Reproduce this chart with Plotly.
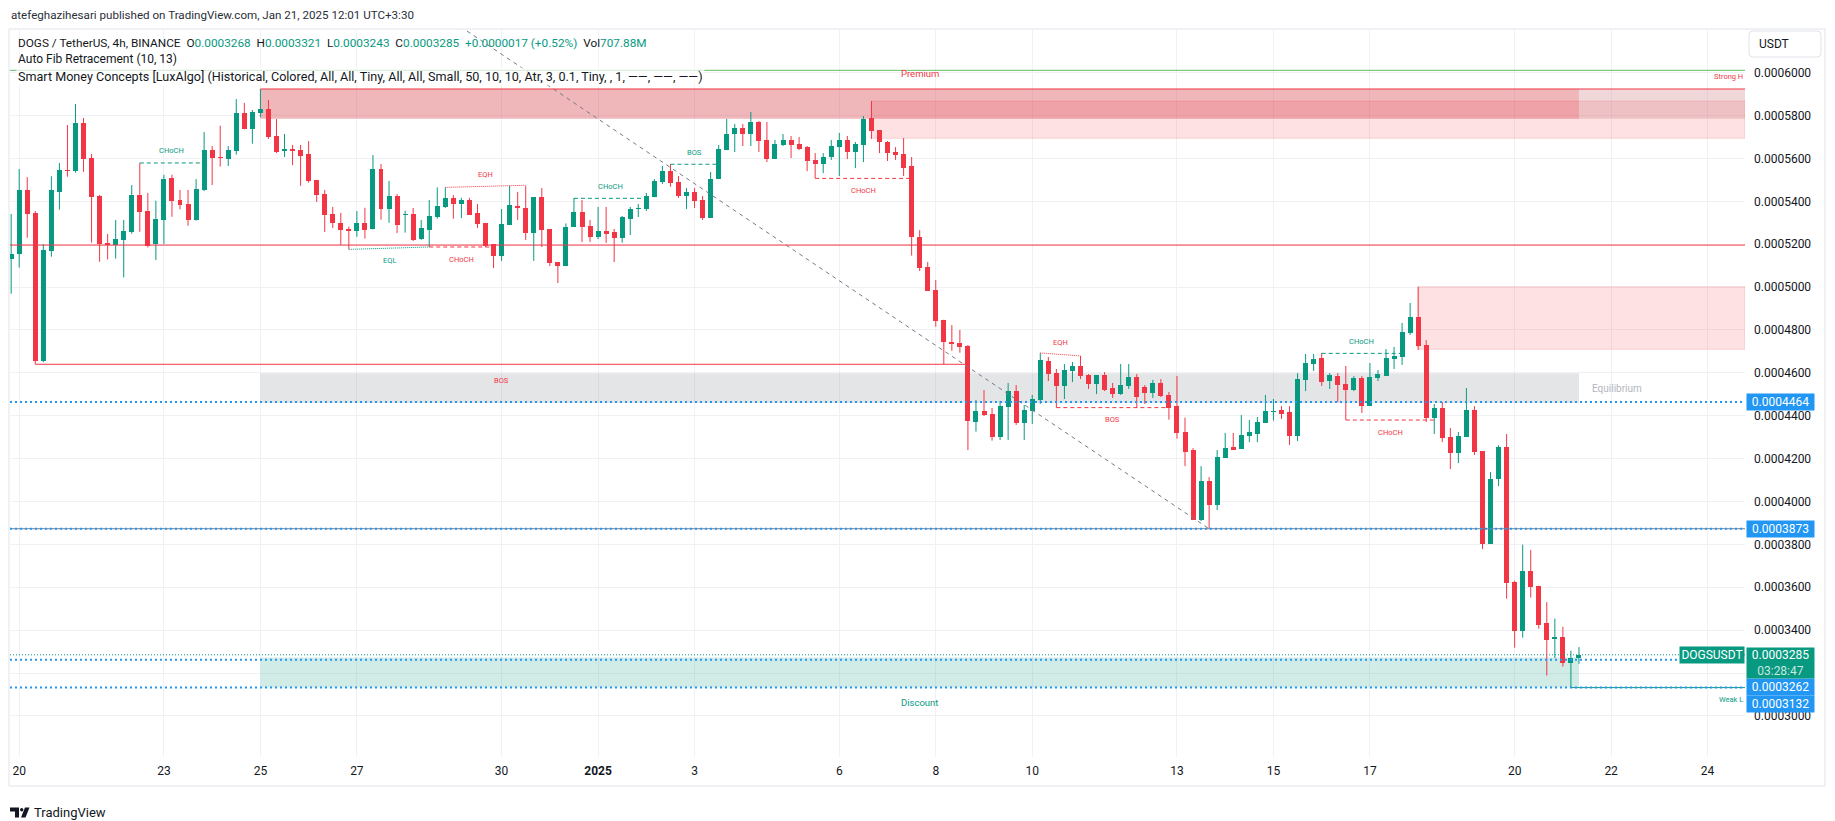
import pandas as pd
import plotly.graph_objects as go

# ===================== chart values =====================
header_text = "atefeghazihesari published on TradingView.com, Jan 21, 2025 12:01 UTC+3:30"
symbol_title = "DOGS / TetherUS, 4h, BINANCE"
fib_title = "Auto Fib Retracement (10, 13)"
smc_title = ("Smart Money Concepts [LuxAlgo] (Historical, Colored, All, All, Tiny, All, All, "
             "Small, 50, 10, 10, Atr, 3, 0.1, Tiny, , 1, \u2014\u2014, \u2014\u2014, \u2014\u2014)")
volume_text = "707.88M"
countdown_text = "03:28:47"
ticker = "DOGSUSDT"
currency = "USDT"

first_bar = "2024-12-19 20:00"      # 4h candles, first one partly visible
bar_hours = 4

opens = [
    0.0005133, 0.0005156, 0.0005453, 0.0005346, 0.0004657, 0.0005170, 0.0005445, 0.0005546, 0.0005543, 0.0005765,
    0.0005601, 0.0005425, 0.0005206, 0.0005196, 0.0005221, 0.0005258, 0.0005430, 0.0005355, 0.0005201, 0.0005313,
    0.0005509, 0.0005406, 0.0005388, 0.0005313, 0.0005453, 0.0005639, 0.0005607, 0.0005599, 0.0005635, 0.0005812,
    0.0005739, 0.0005814, 0.0005831, 0.0005705, 0.0005636, 0.0005643, 0.0005639, 0.0005621, 0.0005500, 0.0005434,
    0.0005341, 0.0005299, 0.0005271, 0.0005263, 0.0005299, 0.0005272, 0.0005551, 0.0005366, 0.0005425, 0.0005338,
    0.0005341, 0.0005224, 0.0005268, 0.0005327, 0.0005374, 0.0005416, 0.0005389, 0.0005406, 0.0005346, 0.0005299,
    0.0005201, 0.0005147, 0.0005290, 0.0005378, 0.0005369, 0.0005252, 0.0005420, 0.0005271, 0.0005117, 0.0005098,
    0.0005280, 0.0005350, 0.0005285, 0.0005234, 0.0005262, 0.0005257, 0.0005230, 0.0005318, 0.0005366, 0.0005366,
    0.0005422, 0.0005490, 0.0005541, 0.0005490, 0.0005425, 0.0005444, 0.0005406, 0.0005324, 0.0005504, 0.0005639,
    0.0005714, 0.0005742, 0.0005714, 0.0005770, 0.0005686, 0.0005597, 0.0005663, 0.0005686, 0.0005667, 0.0005653,
    0.0005593, 0.0005574, 0.0005607, 0.0005653, 0.0005686, 0.0005630, 0.0005663, 0.0005789, 0.0005733, 0.0005677,
    0.0005630, 0.0005621, 0.0005565, 0.0005234, 0.0005094, 0.0004986, 0.0004848, 0.0004744, 0.0004739, 0.0004725,
    0.0004371, 0.0004422, 0.0004408, 0.0004301, 0.0004441, 0.0004517, 0.0004366, 0.0004424, 0.0004473, 0.0004655,
    0.0004599, 0.0004539, 0.0004610, 0.0004632, 0.0004590, 0.0004548, 0.0004590, 0.0004529, 0.0004501, 0.0004539,
    0.0004581, 0.0004534, 0.0004506, 0.0004553, 0.0004497, 0.0004445, 0.0004324, 0.0004240, 0.0003914, 0.0004095,
    0.0003984, 0.0004203, 0.0004254, 0.0004245, 0.0004306, 0.0004315, 0.0004366, 0.0004419, 0.0004427, 0.0004417,
    0.0004305, 0.0004567, 0.0004641, 0.0004669, 0.0004562, 0.0004585, 0.0004548, 0.0004520, 0.0004576, 0.0004445,
    0.0004576, 0.0004585, 0.0004665, 0.0004674, 0.0004786, 0.0004860, 0.0004730, 0.0004389, 0.0004436, 0.0004301,
    0.0004226, 0.0004301, 0.0004427, 0.0004235, 0.0003802, 0.0004105, 0.0004254, 0.0003626, 0.0003398, 0.0003677,
    0.0003607, 0.0003433, 0.0003359, 0.0003368, 0.0003248, 0.0003268,
]
highs = [
    0.0005341, 0.0005551, 0.0005513, 0.0005355, 0.0005201, 0.0005517, 0.0005579, 0.0005756, 0.0005854, 0.0005789,
    0.0005621, 0.0005430, 0.0005248, 0.0005313, 0.0005313, 0.0005476, 0.0005579, 0.0005439, 0.0005403, 0.0005524,
    0.0005524, 0.0005453, 0.0005453, 0.0005504, 0.0005723, 0.0005658, 0.0005753, 0.0005658, 0.0005877, 0.0005859,
    0.0005826, 0.0005924, 0.0005873, 0.0005784, 0.0005714, 0.0005663, 0.0005663, 0.0005681, 0.0005500, 0.0005453,
    0.0005374, 0.0005346, 0.0005282, 0.0005355, 0.0005370, 0.0005616, 0.0005574, 0.0005495, 0.0005434, 0.0005356,
    0.0005369, 0.0005313, 0.0005406, 0.0005465, 0.0005465, 0.0005430, 0.0005416, 0.0005416, 0.0005388, 0.0005299,
    0.0005201, 0.0005364, 0.0005472, 0.0005444, 0.0005472, 0.0005420, 0.0005462, 0.0005271, 0.0005117, 0.0005297,
    0.0005416, 0.0005406, 0.0005313, 0.0005374, 0.0005374, 0.0005271, 0.0005332, 0.0005374, 0.0005388, 0.0005439,
    0.0005504, 0.0005565, 0.0005574, 0.0005518, 0.0005462, 0.0005462, 0.0005425, 0.0005537, 0.0005663, 0.0005784,
    0.0005761, 0.0005761, 0.0005817, 0.0005775, 0.0005770, 0.0005686, 0.0005714, 0.0005705, 0.0005700, 0.0005658,
    0.0005625, 0.0005625, 0.0005686, 0.0005719, 0.0005705, 0.0005677, 0.0005798, 0.0005868, 0.0005733, 0.0005681,
    0.0005653, 0.0005695, 0.0005607, 0.0005266, 0.0005117, 0.0005033, 0.0004848, 0.0004823, 0.0004800, 0.0004730,
    0.0004473, 0.0004520, 0.0004436, 0.0004469, 0.0004553, 0.0004543, 0.0004450, 0.0004497, 0.0004693, 0.0004674,
    0.0004618, 0.0004641, 0.0004651, 0.0004679, 0.0004595, 0.0004590, 0.0004604, 0.0004553, 0.0004641, 0.0004641,
    0.0004595, 0.0004543, 0.0004567, 0.0004571, 0.0004511, 0.0004585, 0.0004391, 0.0004249, 0.0004165, 0.0004114,
    0.0004240, 0.0004320, 0.0004320, 0.0004403, 0.0004380, 0.0004394, 0.0004497, 0.0004478, 0.0004445, 0.0004445,
    0.0004599, 0.0004688, 0.0004688, 0.0004693, 0.0004599, 0.0004599, 0.0004632, 0.0004585, 0.0004585, 0.0004646,
    0.0004613, 0.0004711, 0.0004721, 0.0004833, 0.0004926, 0.0005002, 0.0004753, 0.0004455, 0.0004464, 0.0004343,
    0.0004324, 0.0004529, 0.0004445, 0.0004235, 0.0004137, 0.0004263, 0.0004315, 0.0003631, 0.0003799, 0.0003774,
    0.0003607, 0.0003531, 0.0003454, 0.0003416, 0.0003304, 0.0003321,
]
lows = [
    0.0004969, 0.0005091, 0.0005230, 0.0004640, 0.0004650, 0.0005142, 0.0005361, 0.0005515, 0.0005534, 0.0005538,
    0.0005207, 0.0005118, 0.0005129, 0.0005133, 0.0005045, 0.0005249, 0.0005258, 0.0005185, 0.0005126, 0.0005201,
    0.0005328, 0.0005363, 0.0005286, 0.0005310, 0.0005448, 0.0005476, 0.0005562, 0.0005565, 0.0005618, 0.0005736,
    0.0005669, 0.0005792, 0.0005691, 0.0005625, 0.0005607, 0.0005569, 0.0005472, 0.0005487, 0.0005397, 0.0005257,
    0.0005276, 0.0005196, 0.0005176, 0.0005235, 0.0005226, 0.0005269, 0.0005314, 0.0005300, 0.0005252, 0.0005254,
    0.0005215, 0.0005220, 0.0005187, 0.0005319, 0.0005369, 0.0005319, 0.0005322, 0.0005336, 0.0005276, 0.0005187,
    0.0005089, 0.0005122, 0.0005290, 0.0005313, 0.0005220, 0.0005122, 0.0005187, 0.0005098, 0.0005019, 0.0005098,
    0.0005280, 0.0005210, 0.0005210, 0.0005224, 0.0005206, 0.0005117, 0.0005207, 0.0005243, 0.0005327, 0.0005355,
    0.0005419, 0.0005481, 0.0005468, 0.0005416, 0.0005364, 0.0005369, 0.0005313, 0.0005324, 0.0005504, 0.0005639,
    0.0005630, 0.0005658, 0.0005658, 0.0005630, 0.0005583, 0.0005597, 0.0005658, 0.0005602, 0.0005639, 0.0005541,
    0.0005507, 0.0005532, 0.0005593, 0.0005518, 0.0005597, 0.0005555, 0.0005583, 0.0005691, 0.0005625, 0.0005588,
    0.0005593, 0.0005518, 0.0005147, 0.0005075, 0.0004983, 0.0004815, 0.0004640, 0.0004703, 0.0004694, 0.0004240,
    0.0004326, 0.0004399, 0.0004284, 0.0004287, 0.0004287, 0.0004357, 0.0004287, 0.0004361, 0.0004455, 0.0004562,
    0.0004438, 0.0004478, 0.0004557, 0.0004571, 0.0004525, 0.0004501, 0.0004515, 0.0004483, 0.0004497, 0.0004525,
    0.0004438, 0.0004455, 0.0004483, 0.0004487, 0.0004382, 0.0004293, 0.0004165, 0.0003914, 0.0003909, 0.0003873,
    0.0003960, 0.0004203, 0.0004240, 0.0004245, 0.0004277, 0.0004277, 0.0004366, 0.0004377, 0.0004385, 0.0004264,
    0.0004282, 0.0004515, 0.0004609, 0.0004539, 0.0004525, 0.0004464, 0.0004380, 0.0004515, 0.0004413, 0.0004445,
    0.0004562, 0.0004585, 0.0004618, 0.0004637, 0.0004777, 0.0004707, 0.0004371, 0.0004315, 0.0004277, 0.0004151,
    0.0004179, 0.0004301, 0.0004217, 0.0003778, 0.0003802, 0.0004072, 0.0003547, 0.0003318, 0.0003365, 0.0003552,
    0.0003407, 0.0003188, 0.0003270, 0.0003230, 0.0003132, 0.0003243,
]
closes = [
    0.0005154, 0.0005453, 0.0005342, 0.0004657, 0.0005173, 0.0005453, 0.0005546, 0.0005543, 0.0005765, 0.0005599,
    0.0005422, 0.0005202, 0.0005196, 0.0005224, 0.0005262, 0.0005430, 0.0005352, 0.0005192, 0.0005318, 0.0005504,
    0.0005403, 0.0005383, 0.0005313, 0.0005457, 0.0005639, 0.0005604, 0.0005604, 0.0005639, 0.0005812, 0.0005739,
    0.0005817, 0.0005831, 0.0005699, 0.0005630, 0.0005643, 0.0005636, 0.0005613, 0.0005495, 0.0005431, 0.0005338,
    0.0005297, 0.0005268, 0.0005263, 0.0005299, 0.0005268, 0.0005551, 0.0005366, 0.0005425, 0.0005291, 0.0005342,
    0.0005220, 0.0005276, 0.0005332, 0.0005378, 0.0005416, 0.0005389, 0.0005406, 0.0005336, 0.0005296, 0.0005192,
    0.0005145, 0.0005294, 0.0005383, 0.0005370, 0.0005252, 0.0005420, 0.0005266, 0.0005112, 0.0005098, 0.0005280,
    0.0005350, 0.0005280, 0.0005235, 0.0005262, 0.0005249, 0.0005231, 0.0005327, 0.0005364, 0.0005369, 0.0005425,
    0.0005495, 0.0005541, 0.0005487, 0.0005425, 0.0005444, 0.0005403, 0.0005324, 0.0005504, 0.0005644, 0.0005714,
    0.0005742, 0.0005714, 0.0005770, 0.0005681, 0.0005597, 0.0005667, 0.0005686, 0.0005663, 0.0005644, 0.0005588,
    0.0005574, 0.0005607, 0.0005658, 0.0005686, 0.0005630, 0.0005667, 0.0005784, 0.0005728, 0.0005677, 0.0005625,
    0.0005616, 0.0005555, 0.0005234, 0.0005091, 0.0004983, 0.0004843, 0.0004744, 0.0004734, 0.0004722, 0.0004375,
    0.0004422, 0.0004403, 0.0004302, 0.0004445, 0.0004517, 0.0004366, 0.0004427, 0.0004478, 0.0004660, 0.0004596,
    0.0004539, 0.0004613, 0.0004632, 0.0004585, 0.0004548, 0.0004590, 0.0004520, 0.0004501, 0.0004543, 0.0004581,
    0.0004487, 0.0004506, 0.0004553, 0.0004492, 0.0004436, 0.0004319, 0.0004231, 0.0003914, 0.0004095, 0.0003984,
    0.0004208, 0.0004250, 0.0004240, 0.0004310, 0.0004324, 0.0004371, 0.0004422, 0.0004422, 0.0004408, 0.0004305,
    0.0004571, 0.0004646, 0.0004665, 0.0004557, 0.0004590, 0.0004543, 0.0004520, 0.0004576, 0.0004445, 0.0004581,
    0.0004595, 0.0004669, 0.0004679, 0.0004791, 0.0004861, 0.0004725, 0.0004389, 0.0004436, 0.0004296, 0.0004226,
    0.0004305, 0.0004427, 0.0004231, 0.0003802, 0.0004105, 0.0004254, 0.0003621, 0.0003398, 0.0003677, 0.0003603,
    0.0003426, 0.0003356, 0.0003368, 0.0003248, 0.0003268, 0.0003285,
]

y_tick_values = [0.00030, 0.00032, 0.00034, 0.00036, 0.00038, 0.00040, 0.00042, 0.00044,
                 0.00046, 0.00048, 0.00050, 0.00052, 0.00054, 0.00056, 0.00058, 0.00060]
y_tick_hidden = [0.00032]          # covered by the price tags on the scale
x_tick_dates = ["2024-12-20", "2024-12-23", "2024-12-25", "2024-12-27", "2024-12-30", "2025-01-01",
                "2025-01-03", "2025-01-06", "2025-01-08", "2025-01-10", "2025-01-13", "2025-01-15",
                "2025-01-17", "2025-01-20", "2025-01-22", "2025-01-24"]
x_tick_labels = ["20", "23", "25", "27", "30", "<b>2025</b>", "3", "6", "8", "10", "13", "15",
                 "17", "20", "22", "24"]

# Smart Money Concepts structure (bar numbers counted from the Dec 20 00:00 candle)
struct_bar0 = [15, 69, 81, 53, 41, 51, 99, 127, 129, 162, 165, 2]
struct_bar1 = [23, 78, 87, 63, 51, 59, 111, 132, 143, 172, 176, 118]
struct_price0 = [0.0005579, 0.0005414, 0.0005573, 0.0005465, 0.0005176, 0.0005187,
                 0.0005507, 0.0004693, 0.0004438, 0.0004691, 0.0004380, 0.0004640]
struct_price1 = [0.0005579, 0.0005414, 0.0005573, 0.0005475, 0.0005187, 0.0005187,
                 0.0005507, 0.0004679, 0.0004438, 0.0004691, 0.0004380, 0.0004640]
struct_label = ["CHoCH", "CHoCH", "BOS", "EQH", "EQL", "CHoCH", "CHoCH", "EQH", "BOS", "CHoCH", "CHoCH", "BOS"]
struct_bull = [True, True, True, False, True, False, False, False, False, True, False, False]
struct_kind = ["dash", "dash", "dash", "dot", "dot", "dash", "dash", "dot", "dash", "dash", "dash", "solid"]
struct_above = [True, True, True, True, False, False, False, True, False, True, False, False]

zone_label = ["Premium", "Equilibrium", "Discount"]
zone_top = [0.0005924, 0.0004598, 0.0003272]
zone_bottom = [0.0005785, 0.0004460, 0.0003132]
zone_bar0, zone_bar1 = 30, 194

ob_top = [0.0005868, 0.0005002]
ob_bottom = [0.0005694, 0.0004710]
ob_bar0 = [106, 174]

strong_high, strong_high_bar = 0.0005924, 30
weak_low, weak_low_bar = 0.0003132, 193

fib_one = 0.0006011
fib_618 = 0.0005196
fib_zero = 0.0003873
fib_trend_bars = [40, 148]
fib_trend_prices = [0.0006589, 0.0003873]

alert_prices = [0.0004464, 0.0003873, 0.0003262, 0.0003132]

# ===================== styling / layout =====================
W, H = 1835, 821
L, R, T, B = 10, 90, 29, 64
PW, PH = W - L - R, H - T - B
FONT = "Roboto, 'Noto Sans', sans-serif"
TXT = "#131722"
UP, DN = "#089981", "#f23645"
BLUE = "#2196f3"
GRID = "#f0f1f4"


def px(x):
    return (x - L) / PW


def py(y):
    return (H - B - y) / PH


times = pd.date_range(first_bar, periods=len(opens), freq=f"{bar_hours}h")
bar_ms = bar_hours * 3600 * 1000
bar0_time = pd.Timestamp("2024-12-20")


def tk(k):
    return times[k + 1]


x_left = bar0_time - pd.Timedelta(hours=bar_hours * 1.144)
x_right = bar0_time + pd.Timedelta(hours=bar_hours * 214.65)

fig = go.Figure()

# ---- candles: wicks + bodies ----
for col, want_up in ((UP, True), (DN, False)):
    xs, ys = [], []
    for t, o, h, l, c in zip(times, opens, highs, lows, closes):
        if (c >= o) == want_up:
            xs += [t, t, None]
            ys += [l, h, None]
    fig.add_trace(go.Scatter(x=xs, y=ys, mode="lines", line=dict(color=col, width=1),
                             hoverinfo="skip"))

body_base = [min(o, c) for o, c in zip(opens, closes)]
body_len = [max(abs(c - o), 3.5e-7) for o, c in zip(opens, closes)]
body_col = [UP if c >= o else DN for o, c in zip(opens, closes)]
fig.add_trace(go.Bar(x=times, y=body_len, base=body_base, width=bar_ms * 0.62,
                     marker=dict(color=body_col, line=dict(width=0)), hoverinfo="skip"))

# ---- fib trend line ----
fig.add_trace(go.Scatter(x=[tk(b) for b in fib_trend_bars], y=fib_trend_prices, mode="lines",
                         line=dict(color="#787b86", width=1, dash="4px,4px"), hoverinfo="skip"))

shapes = []
# ---- zones (between grid and candles) ----
for top, bot, b0 in zip(ob_top, ob_bottom, ob_bar0):
    shapes.append(dict(type="rect", xref="x", yref="y", x0=tk(b0), x1=x_right, y0=bot, y1=top,
                       fillcolor="rgba(242,54,69,0.15)", line=dict(width=1, color="rgba(242,54,69,0.18)"),
                       layer="between"))
zone_fill = ["rgba(210,45,55,0.34)", "rgba(120,123,134,0.20)", "rgba(8,153,129,0.19)"]
for top, bot, fc in zip(zone_top, zone_bottom, zone_fill):
    shapes.append(dict(type="rect", xref="x", yref="y", x0=tk(zone_bar0), x1=tk(zone_bar1), y0=bot, y1=top,
                       fillcolor=fc, line=dict(width=0), layer="between"))
shapes.append(dict(type="rect", xref="x", yref="y", x0=tk(zone_bar1), x1=x_right,
                   y0=zone_bottom[0], y1=zone_top[0], fillcolor="rgba(200,110,120,0.28)",
                   line=dict(width=0), layer="between"))

# ---- horizontal levels ----
for lvl, col in ((fib_one, "#66bb6a"), (fib_618, DN), (fib_zero, "#787b86")):
    shapes.append(dict(type="line", xref="paper", yref="y", x0=0, x1=1, y0=lvl, y1=lvl,
                       line=dict(color=col, width=1)))
shapes.append(dict(type="line", xref="x", yref="y", x0=tk(strong_high_bar), x1=x_right,
                   y0=strong_high, y1=strong_high, line=dict(color=DN, width=1)))
shapes.append(dict(type="line", xref="x", yref="y", x0=tk(weak_low_bar), x1=x_right,
                   y0=weak_low, y1=weak_low, line=dict(color=UP, width=1)))

# ---- structure lines ----
dash_map = {"dash": "4px,3px", "dot": "1px,1px", "solid": "solid"}
for b0, b1, p0, p1, bull, kind in zip(struct_bar0, struct_bar1, struct_price0, struct_price1,
                                      struct_bull, struct_kind):
    shapes.append(dict(type="line", xref="x", yref="y", x0=tk(b0), x1=tk(b1), y0=p0, y1=p1,
                       line=dict(color=UP if bull else DN, width=1, dash=dash_map[kind])))

# ---- price lines ----
for p in alert_prices:
    shapes.append(dict(type="line", xref="paper", yref="y", x0=0, x1=1, y0=p, y1=p,
                       line=dict(color=BLUE, width=2, dash="2px,3px")))
shapes.append(dict(type="line", xref="paper", yref="y", x0=0, x1=1, y0=closes[-1], y1=closes[-1],
                   line=dict(color=UP, width=1, dash="1px,2px")))

# ---- frame ----
shapes.append(dict(type="rect", xref="paper", yref="paper", x0=px(9), x1=px(1825), y0=py(786), y1=py(29),
                   line=dict(color="#e0e3eb", width=1), fillcolor="rgba(0,0,0,0)"))


def rounded(x0, y0, x1, y1, r):
    return (f"M{px(x0 + r)},{py(y0)} L{px(x1 - r)},{py(y0)} Q{px(x1)},{py(y0)} {px(x1)},{py(y0 + r)} "
            f"L{px(x1)},{py(y1 - r)} Q{px(x1)},{py(y1)} {px(x1 - r)},{py(y1)} "
            f"L{px(x0 + r)},{py(y1)} Q{px(x0)},{py(y1)} {px(x0)},{py(y1 - r)} "
            f"L{px(x0)},{py(y0 + r)} Q{px(x0)},{py(y0)} {px(x0 + r)},{py(y0)} Z")


shapes.append(dict(type="path", xref="paper", yref="paper", path=rounded(1749, 31, 1821, 57, 4),
                   line=dict(color="#e0e3eb", width=1), fillcolor="white"))

# ---- TradingView logo glyph ----
def poly(pts):
    return "M" + " L".join(f"{px(a)},{py(b)}" for a, b in pts) + " Z"


shapes.append(dict(type="path", xref="paper", yref="paper",
                   path=poly([(10, 807.5), (19, 807.5), (19, 817.5), (15, 817.5), (15, 811.5), (10, 811.5)]),
                   fillcolor=TXT, line=dict(width=0)))
shapes.append(dict(type="circle", xref="paper", yref="paper", x0=px(20), x1=px(23.4), y0=py(811.4), y1=py(808),
                   fillcolor=TXT, line=dict(width=0)))
shapes.append(dict(type="path", xref="paper", yref="paper",
                   path=poly([(25, 807.5), (29.5, 807.5), (25.5, 817.5), (21, 817.5)]),
                   fillcolor=TXT, line=dict(width=0)))

anns = []


def ann(text, x, y, size=12, color=TXT, xanchor="left", yanchor="middle", xref="paper", yref="paper", **kw):
    d = dict(text=text, x=x, y=y, xref=xref, yref=yref, xanchor=xanchor, yanchor=yanchor,
             showarrow=False, font=dict(family=FONT, size=size, color=color))
    d.update(kw)
    anns.append(d)


# ---- header & legends ----
ann(header_text, px(9), py(15), size=11.6, color="#2a2e39")
g = lambda s: f"<span style='color:{UP}'>{s}</span>"
sp = "\u00a0\u00a0"
o_, h_, l_, c_ = opens[-1], highs[-1], lows[-1], closes[-1]
chg = c_ - closes[-2]
pct = chg / closes[-2] * 100
line1 = (f"{symbol_title}{sp}O{g(f'{o_:.7f}')}{sp}H{g(f'{h_:.7f}')}{sp}L{g(f'{l_:.7f}')}{sp}"
         f"C{g(f'{c_:.7f}')}{sp}{g(f'{chg:+.7f} ({pct:+.2f}%)')}{sp}Vol{g(volume_text)}")
ann(line1, px(16), py(42.7), size=11.8)
ann(fib_title, px(16), py(59.5), size=12)
ann(smc_title, px(16), py(76.7), size=12.6, bgcolor="rgba(255,255,255,0.7)")

# ---- structure labels ----
for b0, b1, p0, p1, lab, bull, above in zip(struct_bar0, struct_bar1, struct_price0, struct_price1,
                                            struct_label, struct_bull, struct_above):
    tm = tk(b0) + (tk(b1) - tk(b0)) / 2
    shift = 12 if above else (-16 if lab == "BOS" and b1 - b0 > 50 else -12)
    ann(lab, tm, (p0 + p1) / 2, size=7.5, color=UP if bull else DN, xanchor="center",
        xref="x", yref="y", yshift=shift)

# ---- zone labels ----
zmid = tk(zone_bar0) + (tk(zone_bar1) - tk(zone_bar0)) / 2
ann(zone_label[0], zmid, zone_top[0], size=9.5, color=DN, xanchor="center", xref="x", yref="y", yshift=15)
ann(zone_label[2], zmid, zone_bottom[2], size=9.5, color=UP, xanchor="center", xref="x", yref="y", yshift=-15)
ann(zone_label[1], tk(zone_bar1), (zone_top[1] + zone_bottom[1]) / 2, size=10, color="#b2b5be",
    xanchor="left", xref="x", yref="y", xshift=11)
ann("Strong H", 1, strong_high, size=7.5, color=DN, xanchor="right", yref="y", yshift=12)
ann("Weak L", 1, weak_low, size=7.5, color=UP, xanchor="right", yref="y", yshift=-11.5)

# ---- price scale tags ----
alert_shift = [0, 0, -27, -16.4]
for p, s in zip(alert_prices, alert_shift):
    ann(f"{p:.7f}", px(1746), p, size=12, color="white", yref="y", yshift=s, bgcolor=BLUE,
        width=67, height=16, align="center", borderpad=0)
ann(f"{closes[-1]:.7f}<br><span style='color:rgba(255,255,255,0.78)'>{countdown_text}</span>",
    px(1746), closes[-1], size=12, color="white", yref="y", yanchor="top", yshift=7.8, bgcolor=UP,
    width=67, height=30, align="center", borderpad=0)
ann(ticker, px(1745), closes[-1], size=12, color="white", xanchor="right", yref="y", bgcolor=UP,
    width=64, height=16, align="center", borderpad=0)
ann(currency, px(1757), py(44.3), size=12)
ann("TradingView", px(31.5), py(812.7), size=13, color=TXT)

fig.update_layout(
    width=W, height=H, margin=dict(l=L, r=R, t=T, b=B, pad=0),
    paper_bgcolor="white", plot_bgcolor="white", showlegend=False, hovermode=False,
    dragmode=False, bargap=0, shapes=shapes, annotations=anns,
    xaxis=dict(type="date", range=[x_left, x_right], tickmode="array", tickvals=x_tick_dates,
               ticktext=x_tick_labels, showgrid=True, gridcolor=GRID, gridwidth=1, zeroline=False,
               showline=False, ticks="", ticklabelstandoff=5,
               tickfont=dict(family=FONT, size=12, color=TXT), fixedrange=True),
    yaxis=dict(side="right", range=[0.00028084, 0.00062038], tickmode="array", tickvals=y_tick_values,
               ticktext=["" if v in y_tick_hidden else f"{v:.7f}" for v in y_tick_values],
               showgrid=True, gridcolor=GRID,
               zeroline=False, showline=False, ticks="", ticklabelstandoff=8,
               tickfont=dict(family=FONT, size=12, color=TXT), fixedrange=True),
)

fig.write_html("out.html", config={"displayModeBar": False, "staticPlot": True},
               post_script="document.body.style.margin='0px';document.body.style.overflow='hidden';")
